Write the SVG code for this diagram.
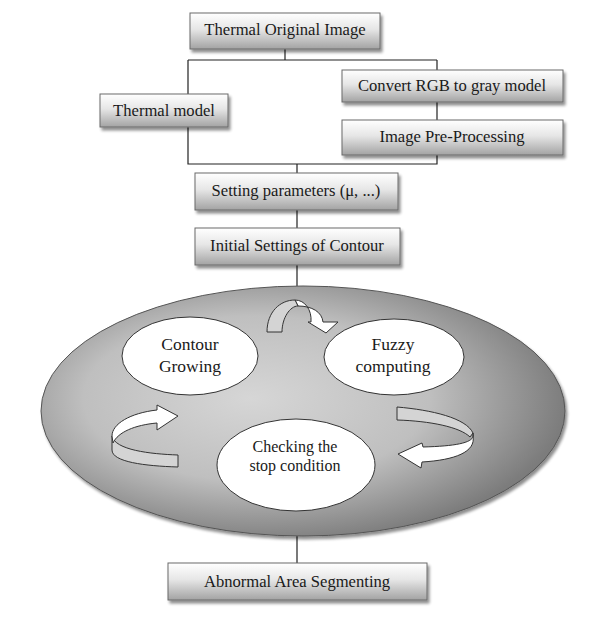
<svg xmlns="http://www.w3.org/2000/svg" width="607" height="634" viewBox="0 0 607 634">
<defs>
<linearGradient id="boxg" x1="0" y1="0" x2="0" y2="1">
<stop offset="0" stop-color="#ffffff"/>
<stop offset="0.45" stop-color="#e6e6e6"/>
<stop offset="1" stop-color="#a3a3a3"/>
</linearGradient>
<radialGradient id="bigg" cx="0.42" cy="0.45" r="0.6" fx="0.4" fy="0.45">
<stop offset="0" stop-color="#d6d6d6"/>
<stop offset="0.55" stop-color="#bfbfbf"/>
<stop offset="1" stop-color="#787878"/>
</radialGradient>
<filter id="sh" x="-10%" y="-20%" width="130%" height="160%">
<feGaussianBlur in="SourceAlpha" stdDeviation="1.5"/>
<feOffset dx="2" dy="3" result="b"/>
<feComponentTransfer><feFuncA type="linear" slope="0.45"/></feComponentTransfer>
<feMerge><feMergeNode/><feMergeNode in="SourceGraphic"/></feMerge>
</filter>
</defs>
<style>
.box{fill:url(#boxg);stroke:#6a6a6a;stroke-width:1;filter:url(#sh)}
.t{font-family:"Liberation Serif","Times New Roman",serif;font-size:16.6px;fill:#1a1a1a;text-anchor:middle}
.e{font-size:17.5px}
.c{fill:none;stroke:#222;stroke-width:1.2}
.ov{fill:#ffffff;stroke:#333;stroke-width:1}
.aw{fill:#ffffff;stroke:#333;stroke-width:1;stroke-linejoin:round}
.ag{fill:#d4d4d4;stroke:#333;stroke-width:1;stroke-linejoin:round}
</style>
<g id="connectors">
<path class="c" d="M285,49 V60 M188,60 H437 M188,60 V94 M437,60 V70 M437,102 V120 M188,127 V164 H437 V155 M297,164 V173 M297,210 V228 M297,265 V286 M297,536 V563"/>
</g>
<g id="loop">
<ellipse cx="303" cy="411" rx="262" ry="125" fill="url(#bigg)" stroke="#555" stroke-width="1" filter="url(#sh)"/>
</g>
<g id="arrow-top">
<path class="aw" d="M295,300 C305,300 312,310 311,322 L308,322 L326,333 L338,322 L323,322 C322,312 312,306 298,306 Z"/>
<path class="ag" d="M267,332 C267,312 280,300 295,300 L298,306 C290,306 282,318 282,332 Z"/>
</g>
<g id="arrow-left">
<path class="ag" d="M112,436 C115,450 150,454 178,455 L178,467 C145,466 112,462 112,450 Z"/>
<path class="aw" d="M112,436 C112,424 130,413 157,410 L157,405 L178,416 L157,430 L157,423 C135,425 118,432 113,443 Z"/>
</g>
<g id="arrow-right">
<path class="ag" d="M397,407 L397,420 C430,421 460,427 470,437 L473,433 C466,418 432,410 397,407 Z"/>
<path class="aw" d="M473,433 C476,442 460,446 423,447 L422,443 L398,454 L421,468 L422,462 C455,460 476,452 473,436 Z"/>
</g>
<g id="n-original"><rect class="box" x="190" y="13" width="190" height="36"/><text class="t" x="285" y="35">Thermal Original Image</text></g>
<g id="n-thermal"><rect class="box" x="100" y="94" width="128" height="33"/><text class="t" x="164" y="116">Thermal model</text></g>
<g id="n-convert"><rect class="box" x="342" y="70" width="221" height="32"/><text class="t" x="452" y="91">Convert RGB to gray model</text></g>
<g id="n-preproc"><rect class="box" x="342" y="120" width="221" height="35"/><text class="t" x="452" y="142">Image Pre-Processing</text></g>
<g id="n-setting"><rect class="box" x="195" y="173" width="203" height="37"/><text class="t" x="296" y="196">Setting parameters (μ, ...)</text></g>
<g id="n-initial"><rect class="box" x="195" y="228" width="205" height="37"/><text class="t" x="297" y="251">Initial Settings of Contour</text></g>
<g id="n-contour"><ellipse class="ov" cx="190" cy="356" rx="68" ry="39"/><text class="t e" x="190" y="350">Contour</text><text class="t e" x="190" y="372">Growing</text></g>
<g id="n-fuzzy"><ellipse class="ov" cx="394" cy="357" rx="70" ry="38"/><text class="t e" x="393" y="350">Fuzzy</text><text class="t e" x="393" y="372">computing</text></g>
<g id="n-check"><ellipse class="ov" cx="296" cy="465" rx="79" ry="46"/><text class="t" x="295" y="452" style="font-size:16px">Checking the</text><text class="t" x="295" y="471" style="font-size:16px">stop condition</text></g>
<g id="n-abnormal"><rect class="box" x="168" y="563" width="259" height="37"/><text class="t" x="297" y="587">Abnormal Area Segmenting</text></g>
</svg>
